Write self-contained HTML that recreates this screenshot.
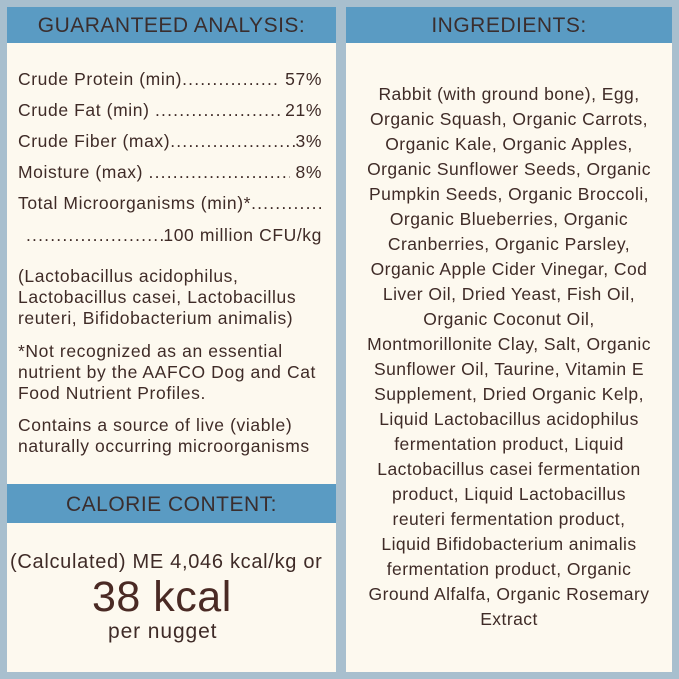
<!DOCTYPE html>
<html><head><style>
body{margin:0;width:679px;height:679px;background:#a8bfce;position:relative;overflow:hidden;font-family:"Liberation Sans",sans-serif;color:#3f2b27}
.p{position:absolute;background:#fdf9ef}
.h{position:absolute;background:#5a9bc3;color:#3a2e2e;font-size:21px;text-align:center;line-height:38px;letter-spacing:0.5px}
.l{position:absolute;font-size:17.5px;letter-spacing:0.6px;white-space:nowrap}
.d{position:absolute;left:18px;width:304px;font-size:17.5px;letter-spacing:0.6px;white-space:nowrap;display:flex}
.d .f{flex:1;overflow:hidden;letter-spacing:1.2px}
.r{position:absolute;left:346px;width:326px;text-align:center;font-size:17.5px;letter-spacing:0.45px;white-space:nowrap}
</style></head><body>
<div class="p" style="left:7px;top:7px;width:329px;height:665px"></div>
<div class="p" style="left:346px;top:7px;width:326px;height:665px"></div>
<div class="h" style="left:7px;top:7px;width:329px;height:36px">GUARANTEED ANALYSIS:</div>
<div class="h" style="left:346px;top:7px;width:326px;height:36px">INGREDIENTS:</div>
<div class="h" style="left:7px;top:484px;width:329px;height:39px;line-height:41px">CALORIE CONTENT:</div>

<div class="d" style="top:69px"><span>Crude Protein (min)</span><span class="f">........................................</span><span>&nbsp;57%</span></div>
<div class="d" style="top:100px"><span>Crude Fat (min)&nbsp;</span><span class="f">........................................</span><span>&nbsp;21%</span></div>
<div class="d" style="top:131px"><span>Crude Fiber (max)</span><span class="f">........................................</span><span>3%</span></div>
<div class="d" style="top:162px"><span>Moisture (max)&nbsp;</span><span class="f">........................................</span><span>&nbsp;8%</span></div>
<div class="d" style="top:193px"><span>Total Microorganisms (min)*</span><span class="f">........................................</span></div>
<div class="d" style="top:225px;left:26px;width:296px"><span class="f">........................................</span><span>100 million CFU/kg</span></div>
<div class="l" style="left:18px;top:266px">(Lactobacillus acidophilus,</div>
<div class="l" style="left:18px;top:287px">Lactobacillus casei, Lactobacillus</div>
<div class="l" style="left:18px;top:308px">reuteri, Bifidobacterium animalis)</div>
<div class="l" style="left:18px;top:341px">*Not recognized as an essential</div>
<div class="l" style="left:18px;top:362px">nutrient by the AAFCO Dog and Cat</div>
<div class="l" style="left:18px;top:383px">Food Nutrient Profiles.</div>
<div class="l" style="left:18px;top:415px">Contains a source of live (viable)</div>
<div class="l" style="left:18px;top:436px">naturally occurring microorganisms</div>

<div class="l" style="left:10px;top:551px;font-size:20px;letter-spacing:0.7px">(Calculated) ME 4,046 kcal/kg or</div>
<div class="l" style="left:92px;top:573px;font-size:43px;letter-spacing:0.5px;color:#4a2a24">38 kcal</div>
<div class="l" style="left:108px;top:620px;font-size:21px;letter-spacing:0.9px">per nugget</div>

<div class="r" style="top:84px">Rabbit (with ground bone), Egg,</div>
<div class="r" style="top:109px">Organic Squash, Organic Carrots,</div>
<div class="r" style="top:134px">Organic Kale, Organic Apples,</div>
<div class="r" style="top:159px">Organic Sunflower Seeds, Organic</div>
<div class="r" style="top:184px">Pumpkin Seeds, Organic Broccoli,</div>
<div class="r" style="top:209px">Organic Blueberries, Organic</div>
<div class="r" style="top:234px">Cranberries, Organic Parsley,</div>
<div class="r" style="top:259px">Organic Apple Cider Vinegar, Cod</div>
<div class="r" style="top:284px">Liver Oil, Dried Yeast, Fish Oil,</div>
<div class="r" style="top:309px">Organic Coconut Oil,</div>
<div class="r" style="top:334px">Montmorillonite Clay, Salt, Organic</div>
<div class="r" style="top:359px">Sunflower Oil, Taurine, Vitamin E</div>
<div class="r" style="top:384px">Supplement, Dried Organic Kelp,</div>
<div class="r" style="top:409px">Liquid Lactobacillus acidophilus</div>
<div class="r" style="top:434px">fermentation product, Liquid</div>
<div class="r" style="top:459px">Lactobacillus casei fermentation</div>
<div class="r" style="top:484px">product, Liquid Lactobacillus</div>
<div class="r" style="top:509px">reuteri fermentation product,</div>
<div class="r" style="top:534px">Liquid Bifidobacterium animalis</div>
<div class="r" style="top:559px">fermentation product, Organic</div>
<div class="r" style="top:584px">Ground Alfalfa, Organic Rosemary</div>
<div class="r" style="top:609px">Extract</div>
</body></html>
